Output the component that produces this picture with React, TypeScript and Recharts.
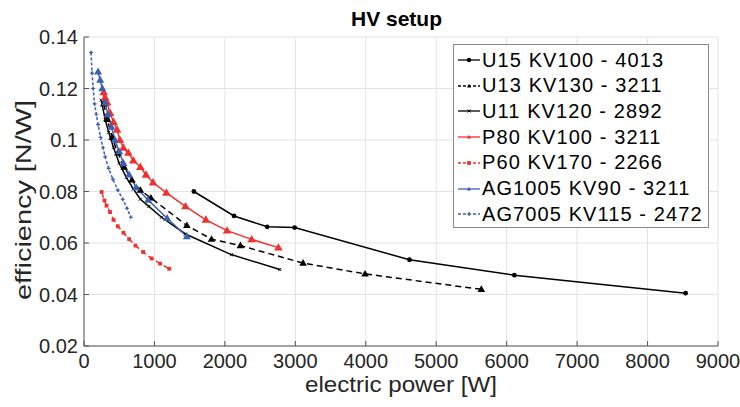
import React from 'react'
import { LineChart, Line, XAxis, YAxis, CartesianGrid, Label } from 'recharts'

// values (power in W, efficiency in N/W)
const u15Power = [1560, 2130, 2600, 2990, 4620, 6110, 8540]
const u15Eff = [0.080, 0.0705, 0.0663, 0.0660, 0.0535, 0.0475, 0.0405]

const u13Power = [280, 330, 400, 480, 570, 680, 800, 950, 1460, 1810, 2220, 3110, 3990, 5640]
const u13Eff = [0.114, 0.108, 0.101, 0.095, 0.0895, 0.0845, 0.0805, 0.0775, 0.0668, 0.0615, 0.0590, 0.0522, 0.0480, 0.0420]

const u11Power = [245, 300, 350, 420, 500, 600, 700, 800, 920, 1100, 1440, 2090, 2780]
const u11Eff = [0.1155, 0.108, 0.103, 0.097, 0.091, 0.0855, 0.081, 0.077, 0.0742, 0.070, 0.0635, 0.0555, 0.0497]

const p80Power = [280, 300, 330, 370, 420, 470, 510, 560, 630, 700, 800, 880, 980, 1170, 1440, 1730, 2030, 2380, 2760]
const p80Eff = [0.1185, 0.1165, 0.1145, 0.1105, 0.107, 0.104, 0.100, 0.097, 0.095, 0.092, 0.0895, 0.0865, 0.0835, 0.0795, 0.0742, 0.0690, 0.0648, 0.0614, 0.0582]

const p60Power = [250, 290, 320, 370, 420, 480, 560, 640, 730, 840, 960, 1080, 1210]
const p60Eff = [0.0798, 0.0765, 0.0745, 0.0720, 0.0690, 0.0665, 0.0640, 0.0615, 0.0590, 0.0565, 0.0540, 0.0520, 0.0500]

const ag1005Power = [200, 230, 260, 300, 340, 390, 440, 500, 560, 640, 740, 910, 1180, 1460]
const ag1005Eff = [0.1265, 0.1233, 0.1200, 0.1145, 0.110, 0.105, 0.100, 0.0955, 0.091, 0.0865, 0.0815, 0.0767, 0.0696, 0.0625]

const ag7005Power = [100, 115, 130, 150, 175, 200, 235, 270, 300, 350, 410, 480, 550, 610, 665]
const ag7005Eff = [0.134, 0.126, 0.120, 0.114, 0.110, 0.106, 0.101, 0.097, 0.0935, 0.089, 0.0848, 0.0805, 0.0770, 0.0735, 0.0700]

const xTicks = [0, 1000, 2000, 3000, 4000, 5000, 6000, 7000, 8000, 9000]
const yTicks = [0.02, 0.04, 0.06, 0.08, 0.1, 0.12, 0.14]

const FONT = "'Liberation Sans', Arial, Helvetica, sans-serif"
const RED = '#f0302e'
const BLUE = '#3a5fb3'

const zip = (xs: number[], ys: number[]) => xs.map((x, i) => ({ power: x, eff: ys[i] }))

// marker shapes
const marker = (kind: string, color: string, s: number) => (props: any) => {
  const { cx, cy, index } = props
  if (cx == null || cy == null) return <g key={index} />
  if (kind === 'tri')
    return <path key={index} d={`M${cx},${cy - s} L${cx + s * 0.95},${cy + s * 0.65} L${cx - s * 0.95},${cy + s * 0.65} Z`} fill={color} />
  if (kind === 'sq')
    return <rect key={index} x={cx - s} y={cy - s} width={s * 2} height={s * 2} fill={color} />
  if (kind === 'plus')
    return <path key={index} d={`M${cx - s},${cy} H${cx + s} M${cx},${cy - s} V${cy + s}`} stroke={color} strokeWidth={1.2} />
  if (kind === 'x')
    return <path key={index} d={`M${cx - s},${cy - s} L${cx + s},${cy + s} M${cx + s},${cy - s} L${cx - s},${cy + s}`} stroke={color} strokeWidth={1} />
  return <circle key={index} cx={cx} cy={cy} r={s} fill={color} />
}

const series = [
  { name: 'U15 KV100 - 4013', data: zip(u15Power, u15Eff), color: '#000', dash: undefined, kind: 'dot', size: 2.4 },
  { name: 'U13 KV130 - 3211', data: zip(u13Power, u13Eff), color: '#000', dash: '6 4', kind: 'tri', size: 4 },
  { name: 'U11 KV120 - 2892', data: zip(u11Power, u11Eff), color: '#000', dash: undefined, kind: 'x', size: 1.5 },
  { name: 'P80 KV100 - 3211', data: zip(p80Power, p80Eff), color: RED, dash: undefined, kind: 'tri', size: 4.5 },
  { name: 'P60 KV170 - 2266', data: zip(p60Power, p60Eff), color: RED, dash: '6 3', kind: 'sq', size: 1.9 },
  { name: 'AG1005 KV90 - 3211', data: zip(ag1005Power, ag1005Eff), color: BLUE, dash: undefined, kind: 'tri', size: 4.2 },
  { name: 'AG7005 KV115 - 2472', data: zip(ag7005Power, ag7005Eff), color: BLUE, dash: '3 2', kind: 'plus', size: 2 },
]

const fmtY = (v: number) => String(+v.toFixed(2))

const LegendBox = () => (
  <div style={{ position: 'absolute', left: 453, top: 44, width: 256, height: 184, border: '1px solid #8a8a8a', background: '#fff', boxSizing: 'border-box', fontFamily: FONT }}>
    {series.map((s, i) => (
      <div key={s.name} style={{ position: 'absolute', left: 3, top: 3 + i * 25.7, height: 24, display: 'flex', alignItems: 'center', whiteSpace: 'nowrap' }}>
        <svg width={24} height={12} style={{ marginRight: 1 }}>
          <line x1={1} y1={6} x2={23} y2={6} stroke={s.color} strokeWidth={1.3} strokeDasharray={s.dash ? '3 2' : undefined} />
          {marker(s.kind, s.color, Math.min(s.size, 2.2))({ cx: 12, cy: 6, index: 0 })}
        </svg>
        <span style={{ fontSize: 20, letterSpacing: 1.1, color: '#000' }}>{s.name}</span>
      </div>
    ))}
  </div>
)

export default function App() {
  return (
    <div style={{ position: 'absolute', left: 0, top: 0, width: 740, height: 407, background: '#fff', fontFamily: FONT }}>
      <div style={{ position: 'absolute', left: 351, top: 7, fontSize: 21, fontWeight: 'bold', color: '#000' }}>HV setup</div>
      <LineChart width={740} height={407} margin={{ top: 37, right: 22, bottom: 0, left: 0 }}>
        <CartesianGrid stroke="#e3e3e3" vertical horizontal />
        <XAxis
          xAxisId={0}
          dataKey="power"
          type="number"
          domain={[0, 9000]}
          ticks={xTicks}
          allowDuplicatedCategory={false}
          height={61}
          tickSize={-5}
          tickMargin={13}
          interval={0}
          axisLine={{ stroke: '#555' }}
          tickLine={{ stroke: '#555' }}
          tick={{ fill: '#262626', fontSize: 20, fontFamily: FONT }}
        >
          <Label
            content={() => (
              <text x={401} y={392} textAnchor="middle" fontSize={22} fontFamily={FONT} fill="#262626" textLength={192} lengthAdjust="spacingAndGlyphs">
                electric  power [W]
              </text>
            )}
          />
        </XAxis>
        <XAxis xAxisId="top" orientation="top" type="number" domain={[0, 9000]} ticks={xTicks} height={0} tick={false} tickSize={-5} axisLine={{ stroke: '#555' }} tickLine={{ stroke: '#555' }} />
        <YAxis
          yAxisId={0}
          type="number"
          domain={[0.02, 0.14]}
          ticks={yTicks}
          width={84}
          tickSize={-5}
          tickMargin={11}
          interval={0}
          tickFormatter={fmtY}
          axisLine={{ stroke: '#555' }}
          tickLine={{ stroke: '#555' }}
          tick={{ fill: '#262626', fontSize: 20, fontFamily: FONT }}
        >
          <Label
            content={() => (
              <text x={31} y={200} transform="rotate(-90 31 200)" textAnchor="middle" fontSize={22} fontFamily={FONT} fill="#262626" textLength={200} lengthAdjust="spacingAndGlyphs">
                efficiency [N/W]
              </text>
            )}
          />
        </YAxis>
        <YAxis yAxisId="right" orientation="right" type="number" domain={[0.02, 0.14]} ticks={yTicks} width={0} tick={false} tickSize={-5} axisLine={{ stroke: '#555' }} tickLine={{ stroke: '#555' }} />
        {series.map((s) => (
          <Line
            key={s.name}
            xAxisId={0}
            yAxisId={0}
            data={s.data}
            dataKey="eff"
            name={s.name}
            type="linear"
            stroke={s.color}
            strokeWidth={1.5}
            strokeDasharray={s.dash}
            dot={marker(s.kind, s.color, s.size)}
            activeDot={false}
            isAnimationActive={false}
          />
        ))}
      </LineChart>
      <LegendBox />
    </div>
  )
}
